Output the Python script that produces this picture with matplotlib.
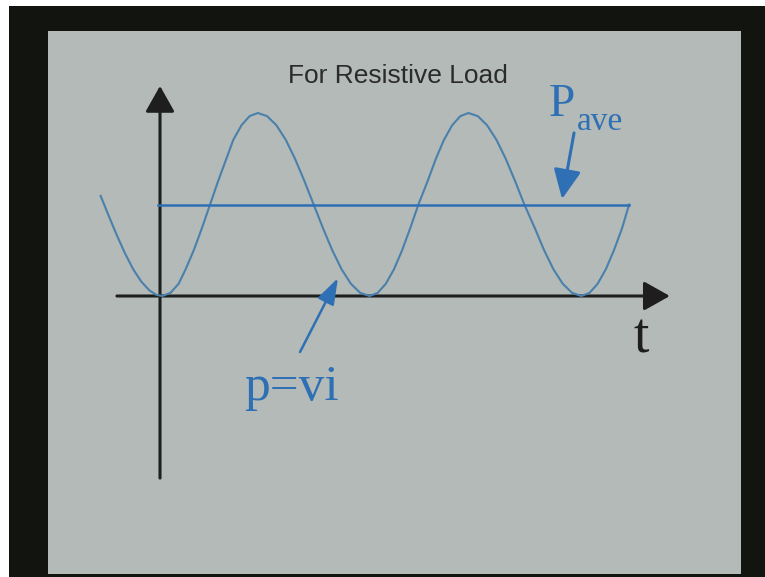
import matplotlib
matplotlib.use('Agg')

import matplotlib.pyplot as plt
from matplotlib.patches import Rectangle

# instantaneous power p = vi for a resistive load, t in degrees of wt,
# p normalised to its peak value
t_curve = [-51, -44, -37, -30, -23, -16, -9, -3, 2,
           9, 16, 22, 29, 36, 43, 50, 57, 63, 70, 77, 84,
           92, 100, 108, 116, 124, 132, 140, 148, 156, 164, 172, 180,
           187, 194, 201, 208, 215, 222, 230, 237, 244, 251, 258, 265,
           273, 281, 289, 297, 305, 313, 322, 330, 338, 346, 354, 362,
           369, 376, 383, 390, 397, 403]
p_curve = [0.547, 0.437, 0.331, 0.232, 0.146, 0.078, 0.030, 0.006, 0.0,
           0.017, 0.067, 0.146, 0.25, 0.371, 0.5, 0.629, 0.75, 0.854, 0.933, 0.983, 1.0,
           0.983, 0.933, 0.854, 0.75, 0.629, 0.5, 0.371, 0.25, 0.146, 0.067, 0.017, 0.0,
           0.017, 0.067, 0.146, 0.25, 0.371, 0.5, 0.629, 0.75, 0.854, 0.933, 0.983, 1.0,
           0.983, 0.933, 0.854, 0.75, 0.629, 0.5, 0.371, 0.25, 0.146, 0.067, 0.017, 0.0,
           0.017, 0.067, 0.146, 0.25, 0.371, 0.5]

# average power line
t_ave = [-2, 403]
p_ave = [0.5, 0.5]

title = 'For Resistive Load'

BLUE = '#2f70b4'
CURVE = '#4a80ab'
INK = '#1e1e1e'

fig = plt.figure(figsize=(7.65, 5.77), dpi=100, facecolor='#121410')

# slide frame: thin white strips, then the grey slide area
fig.patches.append(Rectangle((0, 0), 9 / 765., 1, transform=fig.transFigure,
                             facecolor='white', edgecolor='none', zorder=-10))
fig.patches.append(Rectangle((0, 1 - 6 / 577.), 1, 6 / 577., transform=fig.transFigure,
                             facecolor='white', edgecolor='none', zorder=-10))
fig.patches.append(Rectangle((48 / 765., 3 / 577.), 693 / 765., 543 / 577.,
                             transform=fig.transFigure, facecolor='#b3bab8',
                             edgecolor='none', zorder=-9))

ax = fig.add_axes([0, 0, 1, 1])
ax.patch.set_visible(False)
ax.set_xlim(-137.46, 519.76)
ax.set_ylim(-1.5355, 1.6175)
ax.axis('off')

# axes with arrow heads
axprops = dict(arrowstyle='-|>,head_length=0.8,head_width=0.45', mutation_scale=20,
               lw=2.2, color=INK, shrinkA=0, shrinkB=0)
ax.annotate('', xy=(0, 1.148), xytext=(0, -0.995), arrowprops=axprops)
ax.annotate('', xy=(438, 0.0), xytext=(-37, 0.0), arrowprops=axprops)

ax.plot(t_curve, p_curve, color=CURVE, lw=1.5, solid_joinstyle='round', zorder=3)
ax.plot(t_ave, p_ave, color=BLUE, lw=1.8, zorder=3)

# pointers to the curves
ax.annotate('', xy=(345.4, 0.53), xytext=(355.7, 0.891),
            arrowprops=dict(arrowstyle='-|>,head_length=0.9,head_width=0.42',
                            mutation_scale=20, lw=2.2, color=BLUE,
                            shrinkA=0, shrinkB=0), zorder=4)
ax.annotate('', xy=(152.9, 0.098), xytext=(120.3, -0.306),
            arrowprops=dict(arrowstyle='-|>,head_length=0.8,head_width=0.27',
                            mutation_scale=20, lw=1.8, color=BLUE,
                            shrinkA=0, shrinkB=0), zorder=4)

ax.text(204.5, 1.164, title, ha='center', va='baseline', fontsize=19,
        family='Liberation Sans', color='#2b2b2b')
ax.text(334.2, 0.984, 'P', ha='left', va='baseline', fontsize=34,
        family='Liberation Serif', color=BLUE)
ax.text(358.2, 0.907, 'ave', ha='left', va='baseline', fontsize=24,
        family='Liberation Serif', color=BLUE)
ax.text(406.4, -0.306, 't', ha='left', va='baseline', fontsize=40,
        family='Liberation Serif', color=INK)
ax.text(72.2, -0.568, 'p=vi', ha='left', va='baseline', fontsize=37,
        family='Liberation Serif', color=BLUE)

fig.savefig('out.png', dpi=100, facecolor=fig.get_facecolor())
